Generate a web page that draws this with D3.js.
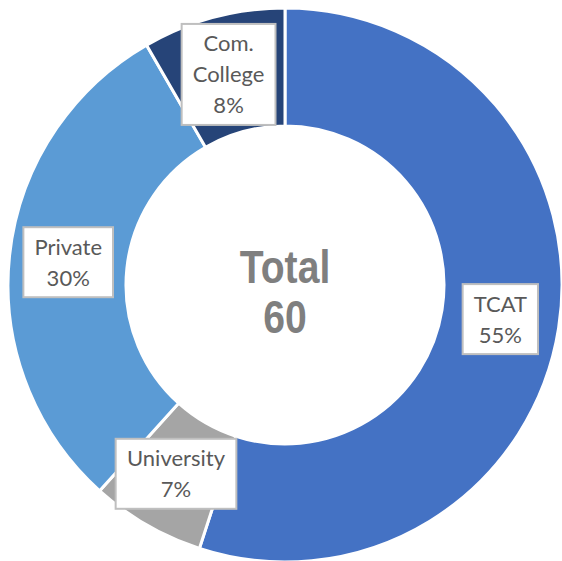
<!DOCTYPE html>
<html>
<head>
<meta charset="utf-8">
<script src="https://cdn.jsdelivr.net/npm/d3@7"></script>
<style>
  body { margin: 0; background: #fff; }
</style>
</head>
<body>
<script>
// Chart data
const categories = ["TCAT", "University", "Private", "Com. College"];
const counts = [33, 4, 18, 5];
const labelLines = [["TCAT"], ["University"], ["Private"], ["Com.", "College"]];
const colours = ["#4472C4", "#A5A5A5", "#5B9BD5", "#264478"];

// SVG dimensions
const width = 562, height = 561;
const cx = 285, cy = 285;
const outerR = 277, innerR = 159;
const lineH = 31;

const total = d3.sum(counts);
const data = categories.map((c, i) => ({name: c, value: counts[i], lines: labelLines[i], colour: colours[i]}));

const svg = d3.select("body")
    .append("svg")
    .attr("width", width)
    .attr("height", height);

const g = svg.append("g")
    .attr("transform", `translate(${cx}, ${cy})`);

// Pie layout, clockwise from 12 o'clock, keep data order
const pie = d3.pie()
    .value((d) => d.value)
    .sort(null);

const arc = d3.arc()
    .innerRadius(innerR)
    .outerRadius(outerR);

const arcs = pie(data);

// Slices
g.selectAll("path.slice")
    .data(arcs)
    .join("path")
    .attr("class", "slice")
    .attr("d", arc)
    .attr("fill", (d) => d.data.colour)
    .attr("stroke", "#fff")
    .attr("stroke-width", 3);

// Data labels: white box with grey border
const labels = g.selectAll("g.label")
    .data(arcs)
    .join("g")
    .attr("class", "label")
    .attr("transform", (d) => `translate(${arc.centroid(d)})`);

labels.each(function(d) {
    const sel = d3.select(this);
    const lines = d.data.lines.concat([Math.round(d.data.value / total * 100) + "%"]);
    const rect = sel.append("rect")
        .attr("fill", "#fff")
        .attr("stroke", "#BFBFBF")
        .attr("stroke-width", 2);
    const text = sel.append("text")
        .attr("text-anchor", "middle")
        .attr("font-family", "Lato, 'Open Sans', sans-serif")
        .attr("font-size", 22)
        .attr("fill", "#595959");
    const y0 = -(lines.length - 1) * lineH / 2;
    lines.forEach((t, i) => {
        text.append("tspan")
            .attr("x", 0)
            .attr("y", y0 + i * lineH)
            .attr("dy", "0.36em")
            .text(t);
    });
    const w = text.node().getBBox().width + 22;
    const h = lines.length * lineH + 8;
    rect.attr("x", -w / 2).attr("y", -h / 2).attr("width", w).attr("height", h);
});

// Centre total (narrowed to look like a condensed bold face)
const centre = g.append("text")
    .attr("text-anchor", "middle")
    .attr("transform", "scale(0.85, 1)")
    .attr("font-family", "'Liberation Sans', Arial, sans-serif")
    .attr("font-weight", "bold")
    .attr("font-size", 46)
    .attr("fill", "#7F7F7F");
centre.append("tspan").attr("x", 0).attr("y", -2).text("Total");
centre.append("tspan").attr("x", 0).attr("y", 48).text(total);
</script>
</body>
</html>
